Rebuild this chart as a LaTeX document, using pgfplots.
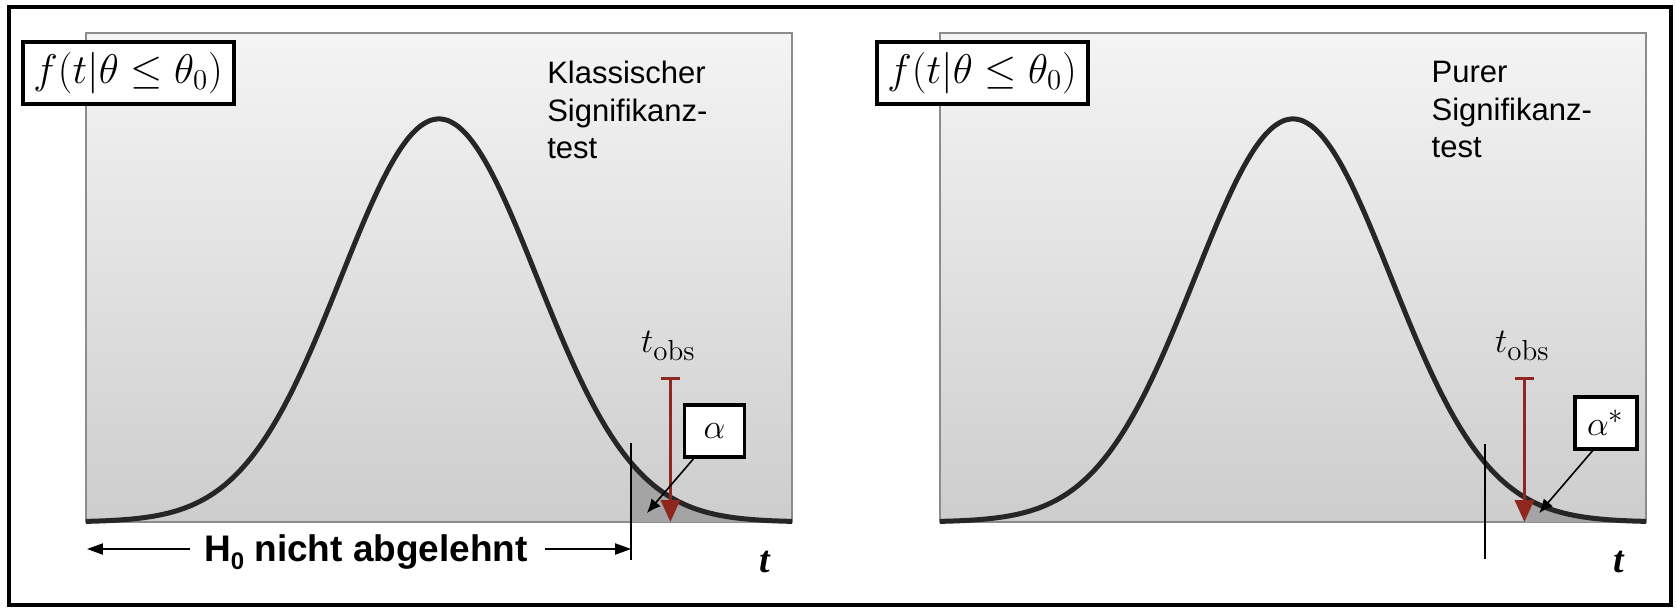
\documentclass[border=0pt]{standalone}
\usepackage{pgfplots}
\pgfplotsset{compat=1.18}
\usepackage{pgfplotstable}
\usetikzlibrary{arrows.meta}
\usepackage{fontspec}
\newfontfamily\sansf{Liberation Sans}
\newfontfamily\seriff{Liberation Serif}

\definecolor{bgtop}{HTML}{F4F4F4}
\definecolor{bgbot}{HTML}{CDCDCD}
\definecolor{tailcol}{HTML}{A4A4A4}
\definecolor{curvecol}{HTML}{262626}
\definecolor{obsred}{RGB}{142,39,32}

% Standardised density shape (peak = 1)
\pgfplotstableread{
u d
-3.6 0.00154
-3.5 0.00219
-3.4 0.00309
-3.3 0.00432
-3.2 0.00598
-3.1 0.00819
-3.0 0.01111
-2.9 0.01492
-2.8 0.01984
-2.7 0.02612
-2.6 0.03405
-2.5 0.04394
-2.4 0.05613
-2.3 0.07100
-2.2 0.08892
-2.1 0.11025
-2.0 0.13534
-1.9 0.16447
-1.8 0.19790
-1.7 0.23575
-1.6 0.27804
-1.5 0.32465
-1.4 0.37531
-1.3 0.42956
-1.2 0.48675
-1.1 0.54607
-1.0 0.60653
-0.9 0.66698
-0.8 0.72615
-0.7 0.78270
-0.6 0.83527
-0.5 0.88250
-0.4 0.92312
-0.3 0.95600
-0.2 0.98020
-0.1 0.99501
0.0 1.00000
0.1 0.99501
0.2 0.98020
0.3 0.95600
0.4 0.92312
0.5 0.88250
0.6 0.83527
0.7 0.78270
0.8 0.72615
0.9 0.66698
1.0 0.60653
1.1 0.54607
1.2 0.48675
1.3 0.42956
1.4 0.37531
1.5 0.32465
1.6 0.27804
1.7 0.23575
1.8 0.19790
1.9 0.16447
2.0 0.13534
2.1 0.11025
2.2 0.08892
2.3 0.07100
2.4 0.05613
2.5 0.04394
2.6 0.03405
2.7 0.02612
2.8 0.01984
2.9 0.01492
3.0 0.01111
3.1 0.00819
3.2 0.00598
3.3 0.00432
3.4 0.00309
3.5 0.00219
3.6 0.00154
}\density

% Rejection region beyond the critical value 1.96
\pgfplotstableread{
u d
1.96 0.14648
2.0 0.13534
2.1 0.11025
2.2 0.08892
2.3 0.07100
2.4 0.05613
2.5 0.04394
2.6 0.03405
2.7 0.02612
2.8 0.01984
2.9 0.01492
3.0 0.01111
3.1 0.00819
3.2 0.00598
3.3 0.00432
3.4 0.00309
3.5 0.00219
3.6 0.00154
}\tailcrit

% Tail beyond the observed value 2.36
\pgfplotstableread{
u d
2.36 0.06173
2.4 0.05613
2.5 0.04394
2.6 0.03405
2.7 0.02612
2.8 0.01984
2.9 0.01492
3.0 0.01111
3.1 0.00819
3.2 0.00598
3.3 0.00432
3.4 0.00309
3.5 0.00219
3.6 0.00154
}\tailobs

\pgfplotsset{
  densplot/.style={
    scale only axis, width=353pt, height=244.5pt,
    xmin=-3.6, xmax=3.6, ymin=0, ymax=1.213,
    ticks=none, clip=false,
    axis line style={draw=black!45, line width=1pt},
    axis background/.style={top color=bgtop, bottom color=bgbot},
    anchor=south west,
  },
  curve/.style={draw=curvecol, line width=2.5pt, smooth},
}
\tikzset{
  fbox/.style={draw, line width=2pt, fill=white, minimum width=105.5pt,
    minimum height=31pt, inner sep=0pt, font=\fontsize{19.5}{22}\selectfont},
  abox/.style={draw, line width=1.8pt, fill=white, minimum height=26pt,
    inner sep=0pt, font=\fontsize{19}{21}\selectfont},
  title/.style={anchor=north west, align=left, inner sep=0pt,
    font=\sansf\fontsize{15.5}{18.75}\selectfont},
  tlab/.style={font=\seriff\bfseries\itshape\fontsize{19}{21}\selectfont},
  obslab/.style={anchor=base, inner sep=0pt, font=\fontsize{16}{18}\selectfont},
  obsarrow/.style={obsred, line width=1.5pt,
    {Bar[width=9.5pt]}-{Triangle[length=11pt,width=9.5pt]}},
  ptr/.style={line width=0.8pt, -{Latex[length=7pt,width=6pt]}},
}

\begin{document}
\begin{tikzpicture}
\useasboundingbox (0,0) rectangle (838.5pt,303.5pt);
\draw[line width=2pt] (4.5pt,1.2pt) rectangle (835.5pt,300pt);

% Classical significance test
\begin{axis}[densplot, at={(43pt,42.5pt)}]
  \addplot[fill=tailcol, draw=none] table {\tailcrit} \closedcycle;
  \addplot[curve] table {\density};
  \draw[line width=0.7pt] (axis cs:1.96,0.196) -- (axis cs:1.96,-0.094);
  \draw[obsarrow] (axis cs:2.36,0.36) -- (axis cs:2.36,0);
  \node[obslab] at (axis cs:2.34,0.42) {$t_{\mbox{\fontsize{14.5}{16}\selectfont obs}}$};
  \node[abox, minimum width=30pt] at (axis cs:2.81,0.226) {$\alpha$};
  \draw[ptr] (axis cs:2.61,0.161) -- (axis cs:2.12,0.022);
  \node[fbox] at (axis cs:-3.17,1.114) {$f(t|\theta \le \theta_0)$};
  \node[title] at (axis cs:1.10,1.144) {Klassischer\\Signifikanz-\\test};
  \draw[line width=1pt, -{Triangle[length=8pt,width=5.5pt]}]
    (axis cs:-2.54,-0.067) -- (axis cs:-3.59,-0.067);
  \draw[line width=1pt, -{Triangle[length=8pt,width=5.5pt]}]
    (axis cs:1.08,-0.067) -- (axis cs:1.96,-0.067);
  \node[anchor=base, inner sep=0pt, font=\sansf\bfseries\fontsize{18.5}{20}\selectfont]
    at (axis cs:-0.745,-0.099)
    {H\raisebox{-0.2em}{\fontsize{12}{12}\selectfont 0} nicht abgelehnt};
  \node[tlab] at (axis cs:3.32,-0.1) {t};
\end{axis}

% Pure significance test
\begin{axis}[densplot, at={(470pt,42.5pt)}]
  \addplot[fill=tailcol, draw=none] table {\tailobs} \closedcycle;
  \addplot[curve] table {\density};
  \draw[line width=0.7pt] (axis cs:1.96,0.194) -- (axis cs:1.96,-0.092);
  \draw[obsarrow] (axis cs:2.36,0.36) -- (axis cs:2.36,0);
  \node[obslab] at (axis cs:2.34,0.42) {$t_{\mbox{\fontsize{14.5}{16}\selectfont obs}}$};
  \node[abox, minimum width=31pt] at (axis cs:3.19,0.246) {$\alpha^{*}$};
  \draw[ptr] (axis cs:3.07,0.181) -- (axis cs:2.51,0.022);
  \node[fbox] at (axis cs:-3.17,1.114) {$f(t|\theta \le \theta_0)$};
  \node[title] at (axis cs:1.41,1.144) {Purer\\Signifikanz-\\test};
  \node[tlab] at (axis cs:3.32,-0.1) {t};
\end{axis}
\end{tikzpicture}
\end{document}
